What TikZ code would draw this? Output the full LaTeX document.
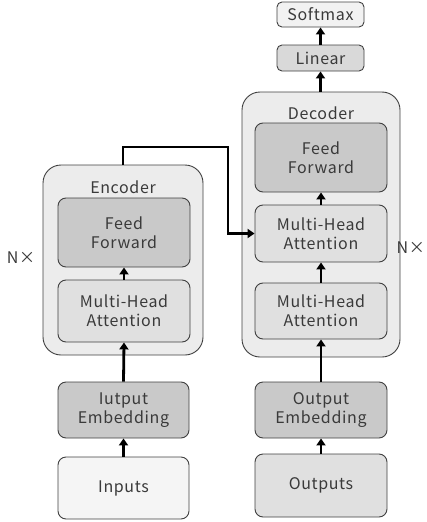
\documentclass[tikz,border=0pt]{standalone}
\usepackage{fontspec}
\setmainfont{Noto Sans CJK JP}[LetterSpace=4]
\usetikzlibrary{arrows.meta}
\definecolor{txt}{HTML}{3A3A3A}
\definecolor{edge}{HTML}{404040}
\definecolor{outerfill}{HTML}{ECECEC}
\definecolor{ffill}{HTML}{C9C9C9}
\definecolor{mhafill}{HTML}{E0E0E0}
\definecolor{infill}{HTML}{F5F5F5}
\definecolor{linfill}{HTML}{D9D9D9}
\definecolor{smfill}{HTML}{F2F2F2}
\tikzset{
  box/.style={draw=edge, line width=0.9pt, rounded corners=8pt, text=txt, align=center, inner sep=0pt, font=\fontsize{16}{19}\selectfont},
  outerbox/.style={draw=edge, line width=0.9pt, rounded corners=18pt, fill=outerfill, inner sep=0pt},
  lbl/.style={text=txt, font=\fontsize{16}{19}\selectfont, inner sep=0pt},
  conn/.style={line width=2.8pt, black, -{Triangle[length=7pt,width=9pt]}}
}
\begin{document}
\begin{tikzpicture}[x=1pt,y=-1pt]
\useasboundingbox (0,0) rectangle (426,522);
% encoder
\node[outerbox, minimum width=160pt, minimum height=190pt] (enc) at (123,260) {};
\node[lbl] (enclbl) at (123,187) {Encoder};
\node[box, fill=ffill, minimum width=132pt, minimum height=69pt] (encff) at (124,232.5) {Feed\\Forward};
\node[box, fill=mhafill, minimum width=132pt, minimum height=62pt] (encmha) at (124,311) {Multi-Head\\Attention};
% decoder
\node[outerbox, minimum width=158pt, minimum height=265pt] (dec) at (321,224.5) {};
\node[lbl] (declbl) at (321,113) {Decoder};
\node[box, fill=ffill, minimum width=132pt, minimum height=69pt] (decff) at (321,157.5) {Feed\\Forward};
\node[box, fill=mhafill, minimum width=132pt, minimum height=57pt] (decmha1) at (321,233.5) {Multi-Head\\Attention};
\node[box, fill=mhafill, minimum width=132pt, minimum height=56pt] (decmha2) at (321,311) {Multi-Head\\Attention};
% top
\node[box, fill=linfill, rounded corners=5pt, minimum width=87pt, minimum height=26pt] (lin) at (320.5,58) {Linear};
\node[box, fill=smfill, rounded corners=5pt, minimum width=87pt, minimum height=25pt] (sm) at (320.5,14.5) {Softmax};
% bottom
\node[box, fill=ffill, minimum width=131pt, minimum height=56pt] (inemb) at (123.5,410) {Iutput\\Embedding};
\node[box, fill=infill, minimum width=131pt, minimum height=62pt] (inp) at (123.5,488) {Inputs};
\node[box, fill=ffill, minimum width=132pt, minimum height=56pt] (outemb) at (321,410) {Output\\Embedding};
\node[box, fill=mhafill, minimum width=132pt, minimum height=63pt] (outp) at (321,485.5) {Outputs};
% N x
\node[lbl] (nl) at (21,258) {N×};
\node[lbl, anchor=east] (nr) at (425,248) {N×};
% connectors
\draw[conn] (inp.north) -- (inemb.south);
\draw[conn] (inemb.north) -- (encmha.south);
\draw[conn] (encmha.north) -- (encff.south);
\coordinate (c1) at (123,147);
\coordinate (c2) at (228,147);
\draw[conn] (enc.north) -- (c1) -- (c2) |- (decmha1.west);
\draw[conn] (outp.north) -- (outemb.south);
\draw[conn] (outemb.north) -- (decmha2.south);
\draw[conn] (decmha2.north) -- (decmha1.south);
\draw[conn] (decmha1.north) -- (decff.south);
\draw[conn] (dec.north -| lin.south) -- (lin.south);
\draw[conn] (lin.north) -- (sm.south);
\end{tikzpicture}
\end{document}
